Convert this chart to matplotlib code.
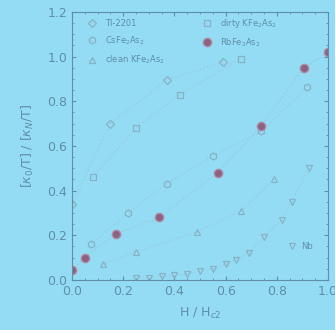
import matplotlib
matplotlib.use("Agg")
import matplotlib.pyplot as plt

# data (H/Hc2, normalised kappa/T)
tl_x = [0.0, 0.15, 0.37, 0.59]
tl_y = [0.34, 0.70, 0.895, 0.975]

cs_x = [0.075, 0.22, 0.37, 0.55, 0.74, 0.92]
cs_y = [0.16, 0.30, 0.43, 0.555, 0.665, 0.865]

clean_x = [0.12, 0.25, 0.49, 0.66, 0.79]
clean_y = [0.07, 0.125, 0.215, 0.31, 0.45]

dirty_x = [0.08, 0.25, 0.42, 0.66]
dirty_y = [0.46, 0.68, 0.83, 0.99]

rb_x = [0.0, 0.05, 0.17, 0.34, 0.57, 0.74, 0.905, 1.0]
rb_y = [0.045, 0.10, 0.205, 0.28, 0.48, 0.69, 0.95, 1.02]

nb_x = [0.25, 0.30, 0.35, 0.40, 0.45, 0.50, 0.55, 0.60, 0.64, 0.69, 0.75, 0.82, 0.86, 0.925]
nb_y = [0.01, 0.01, 0.015, 0.02, 0.025, 0.04, 0.05, 0.07, 0.09, 0.12, 0.19, 0.27, 0.35, 0.50]

bg = "#93dcf4"
ink = "#5f8fa6"
mk = "#86b3c6"
line = "#9ccbdc"

fig = plt.figure(figsize=(3.35, 3.30), dpi=100, facecolor=bg)
ax = fig.add_axes([0.215, 0.152, 0.764, 0.812], facecolor=bg)

ms = 5
kw = dict(ls=":", lw=1.0, color=line, mfc="none", mec=mk, mew=0.9)
ax.plot(tl_x, tl_y, marker="D", ms=ms - 1, label="Tl-2201", **kw)
ax.plot(cs_x, cs_y, marker="h", ms=ms, label="CsFe$_2$As$_2$", **kw)
ax.plot(clean_x, clean_y, marker="^", ms=ms, label="clean KFe$_2$As$_2$", **kw)
ax.plot(dirty_x, dirty_y, marker="s", ms=ms - 1, label="dirty KFe$_2$As$_2$", **kw)
ax.plot(rb_x, rb_y, ls=":", lw=1.0, color=line, marker="o", ms=ms + 1, mfc="#8a6382", mec="#b08aa4",
        label="RbFe$_2$As$_2$")
ax.plot(nb_x, nb_y, marker="v", ms=ms - 1, **kw)

ax.plot([0.86], [0.15], marker="v", ms=ms, mfc="none", mec=mk, mew=0.9, ls="none")
ax.text(0.895, 0.15, "Nb", fontsize=6, color=ink, va="center")

ax.set_xlim(0, 1.0)
ax.set_ylim(0, 1.2)
ax.set_xticks([0.0, 0.2, 0.4, 0.6, 0.8, 1.0])
ax.set_yticks([0.0, 0.2, 0.4, 0.6, 0.8, 1.0, 1.2])
ax.set_xticklabels(["0.0", "0.2", "0.4", "0.6", "0.8", "1.0"])
ax.minorticks_on()
ax.tick_params(which="both", direction="in", top=True, right=True, colors=ink, labelsize=9)
ax.tick_params(which="major", length=3)
ax.tick_params(which="minor", length=1.5)
for s in ax.spines.values():
    s.set_color(ink)
    s.set_linewidth(0.8)

ax.set_xlabel("H / H$_{c2}$", fontsize=9, color=ink, labelpad=6)
ax.set_ylabel("[$\\kappa_0$/T] / [$\\kappa_N$/T]", fontsize=9, color=ink, labelpad=8)

leg = ax.legend(loc="upper left", ncol=2, fontsize=6, frameon=False, handlelength=1.2,
                columnspacing=4.5, handletextpad=0.9, labelspacing=0.8,
                bbox_to_anchor=(0.03, 1.01))
for t in leg.get_texts():
    t.set_color(ink)

fig.savefig("out.png", dpi=100, facecolor=bg)
